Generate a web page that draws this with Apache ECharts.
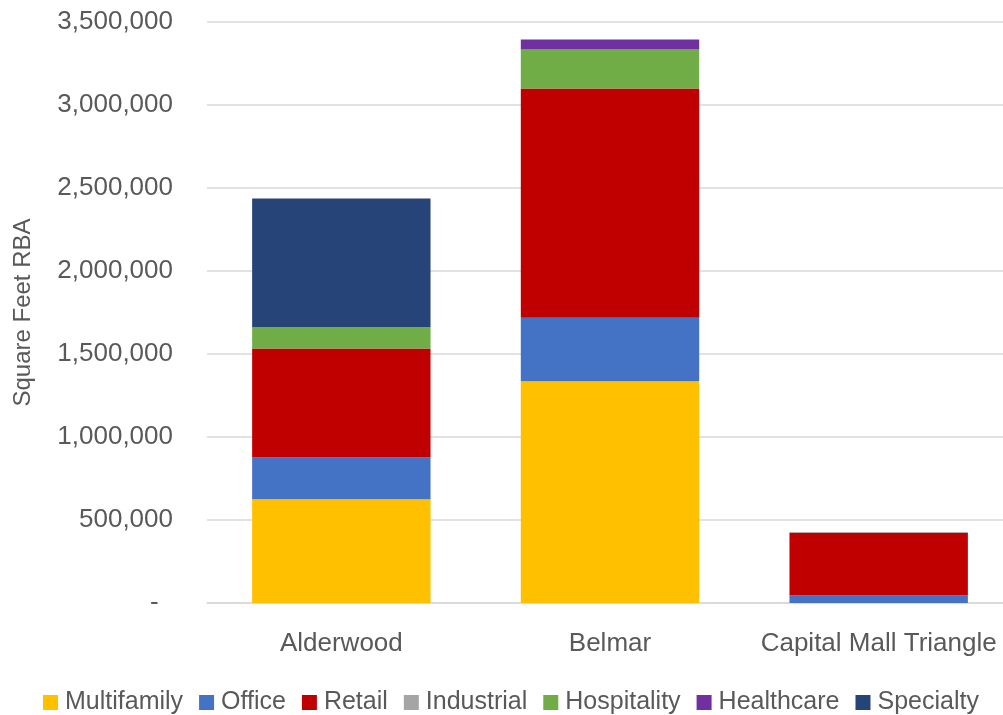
<!DOCTYPE html>
<html>
<head>
<meta charset="utf-8">
<script src="https://cdn.jsdelivr.net/npm/echarts@6/dist/echarts.min.js"></script>
<style>
html,body{margin:0;padding:0;background:#fff;}
#chart{width:1003px;height:715px;}
</style>
</head>
<body>
<div id="chart"></div>
<script>
var categories = ['Alderwood', 'Belmar', 'Capital Mall Triangle'];
var seriesNames = ['Multifamily', 'Office', 'Retail', 'Industrial', 'Hospitality', 'Healthcare', 'Specialty'];
var multifamily = [625000, 1336000, 0];
var office = [251000, 382000, 45000];
var retail = [657000, 1381000, 378000];
var industrial = [0, 0, 5000];
var hospitality = [128000, 235000, 0];
var healthcare = [0, 61000, 0];
var specialty = [776000, 0, 0];
var colors = ['#FFC000', '#4472C4', '#C00000', '#A5A5A5', '#70AD47', '#7030A0', '#264478'];
var yTicks = [0, 500000, 1000000, 1500000, 2000000, 2500000, 3000000, 3500000];

var values = [multifamily, office, retail, industrial, hospitality, healthcare, specialty];
var FONT = 'Liberation Sans';
var TXT = '#595959';

var chart = echarts.init(document.getElementById('chart'), null, {renderer: 'canvas'});
var series = seriesNames.map(function (n, i) {
  return {
    name: n,
    type: 'bar',
    stack: 'total',
    data: values[i],
    barWidth: '66.4%',
    itemStyle: {color: colors[i]},
    emphasis: {disabled: true}
  };
});

chart.setOption({
  animation: false,
  color: colors,
  grid: {left: 207, width: 806, top: 22, height: 581, containLabel: false, outerBoundsMode: 'none'},
  xAxis: {
    type: 'category',
    data: categories,
    axisLine: {show: true, lineStyle: {color: '#D9D9D9', width: 1.5}},
    axisTick: {show: false},
    axisLabel: {color: TXT, fontFamily: FONT, fontSize: 26, margin: 28, interval: 0}
  },
  yAxis: {
    type: 'value',
    min: yTicks[0],
    max: yTicks[yTicks.length - 1],
    interval: 500000,
    name: 'Square Feet RBA',
    nameLocation: 'middle',
    nameGap: 172,
    nameTextStyle: {color: TXT, fontFamily: FONT, fontSize: 24},
    axisLine: {show: false},
    axisTick: {show: false},
    splitLine: {lineStyle: {color: '#D9D9D9', width: 1.5}},
    axisLabel: {
      color: TXT, fontFamily: FONT, fontSize: 26, margin: 34,
      formatter: function (v) { return v === 0 ? '-  ' : v.toLocaleString('en-US'); }
    }
  },
  legend: {
    data: seriesNames,
    left: 38,
    top: 685,
    itemWidth: 15,
    itemHeight: 15,
    itemGap: 16,
    icon: 'rect',
    textStyle: {color: TXT, fontFamily: FONT, fontSize: 25, padding: [0, 0, 0, 2]}
  },
  series: series
});
</script>
</body>
</html>
